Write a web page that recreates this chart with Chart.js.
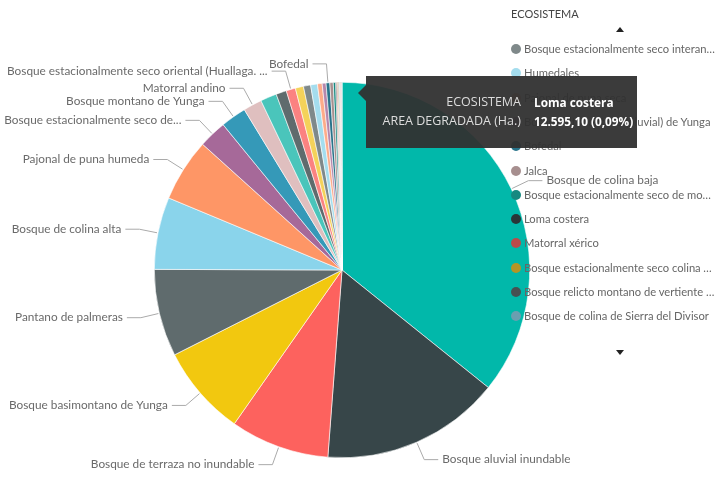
<!DOCTYPE html>
<html lang="es">
<head>
<meta charset="utf-8">
<title>Área degradada por ecosistema</title>
<script src="https://cdn.jsdelivr.net/npm/chart.js@4.4.1/dist/chart.umd.min.js"></script>
<style>
    body { margin: 0; background: #fff; }
    #contenidor { position: relative; width: 725px; height: 483px; overflow: hidden; }
    #grafica { position: absolute; left: 0; top: 0; }
    #llegenda { position: absolute; left: 508px; top: 0; width: 217px; font-family: Lato, sans-serif; }
    #llegenda .titol { position: absolute; left: 3px; top: 7px; font-size: 11px; color: #444; }
    #llegenda .fletxa { position: absolute; left: 108px; width: 0; height: 0; border-left: 4.5px solid transparent; border-right: 4.5px solid transparent; }
    #llegenda .amunt { top: 27px; border-bottom: 5px solid #222; }
    #llegenda .avall { top: 350px; border-top: 5px solid #222; }
    #llegenda .item { position: absolute; left: 3px; height: 16px; line-height: 16px; font-size: 11.2px; color: #666; white-space: nowrap; }
    #llegenda .punt { display: inline-block; width: 10px; height: 10px; border-radius: 50%; vertical-align: -1px; margin-right: 3px; }
    #llegenda .text { display: inline-block; max-width: 191px; overflow: hidden; text-overflow: ellipsis; vertical-align: top; }
    #tooltip { position: absolute; left: 366px; top: 76px; width: 271px; height: 72px; background: rgba(48, 48, 48, 0.95); font-family: "Open Sans", sans-serif; }
    #tooltip:before { content: ""; position: absolute; left: -8px; top: 9px; border-top: 8px solid transparent; border-bottom: 8px solid transparent; border-right: 8px solid rgba(48, 48, 48, 0.95); }
    #tooltip .fila { position: absolute; left: 0; width: 271px; white-space: nowrap; }
    #tooltip .clau { position: absolute; right: 116px; color: #ddd; font-size: 12.5px; }
    #tooltip .valor { position: absolute; left: 168px; top: 1px; color: #fff; font-weight: bold; font-size: 11.8px; }
</style>
</head>
<body>
<div id="contenidor">
    <canvas id="grafica" width="725" height="483"></canvas>
    <div id="llegenda"></div>
    <div id="tooltip"></div>
</div>
<script>
// Dades: àrea degradada (Ha.) per ecosistema
const ecosistemes = [
    'Bosque de colina baja',
    'Bosque aluvial inundable',
    'Bosque de terraza no inundable',
    'Bosque basimontano de Yunga',
    'Pantano de palmeras',
    'Bosque de colina alta',
    'Pajonal de puna humeda',
    'Bosque estacionalmente seco de llanura',
    'Bosque montano de Yunga',
    'Matorral andino',
    'Bosque estacionalmente seco ribereño',
    'Bosque relicto altoandino',
    'Bosque estacionalmente seco oriental (Huallaga y Mayo)',
    'Pantano herbáceo-arbustivo',
    'Bosque estacionalmente seco interandino',
    'Humedales',
    'Pajonal de puna seca',
    'Bosque altimontano (pluvial) de Yunga',
    'Bofedal',
    'Jalca',
    'Bosque estacionalmente seco de montaña',
    'Loma costera',
    'Matorral xérico',
    'Bosque estacionalmente seco colina y montaña',
    'Bosque relicto montano de vertiente occidental',
    'Bosque de colina de Sierra del Divisor',
    'Bosque relicto mesoandino',
    'Bosque de terraza inundable por agua negra',
    'Sabana hidrofítica',
    'Desierto costero'
];

const areaDegradada = [
    4996000, 2155000, 1190000, 1091000, 1050000, 868000, 756000, 336000, 308000, 224000,
    196000, 126000, 112000, 98000, 86000, 82000, 56000, 46500, 45000, 41000,
    28000, 12595.10, 11800, 10900, 9800, 8700, 7600, 6100, 4800, 3200
];

// Etiquetes que es veuen al costat del pastís ('' = sense etiqueta)
const etiquetes = [
    'Bosque de colina baja', 'Bosque aluvial inundable', 'Bosque de terraza no inundable',
    'Bosque basimontano de Yunga', 'Pantano de palmeras', 'Bosque de colina alta',
    'Pajonal de puna humeda', 'Bosque estacionalmente seco de...', 'Bosque montano de Yunga',
    'Matorral andino', '', '', 'Bosque estacionalmente seco oriental (Huallaga. ...', '', '', '', '', '',
    'Bofedal', '', '', '', '', '', '', '', '', '', '', ''
];

// Paleta clàssica de Power BI
const colors = [
    '#01B8AA', '#374649', '#FD625E', '#F2C80F', '#5F6B6D', '#8AD4EB', '#FE9666', '#A66999', '#3599B8', '#DFBFBF',
    '#4AC5BB', '#5F6B6D', '#FB8281', '#F4D25A', '#7F898A', '#A4DDEE', '#FDAB89', '#B687AC', '#28738A', '#A78F8F',
    '#168980', '#293537', '#BB4A4A', '#B59525', '#475052', '#6A9FB0', '#BD7150', '#7B4F71', '#1B4D5C', '#706060'
];

const titolLlegenda = 'ECOSISTEMA';
const primerDeLlegenda = 14; // la llegenda està desplaçada
const itemsLlegenda = 12;
const seleccionat = 'Loma costera';
const nomValor = 'AREA DEGRADADA (Ha.)';

// Plugin per dibuixar les etiquetes amb línia guia
const etiquetesPlugin = {
    id: 'etiquetesPastis',
    afterDatasetsDraw(chart) {
        const ctx = chart.ctx;
        const arcs = chart.getDatasetMeta(0).data;
        ctx.save();
        ctx.font = '11.8px Lato, sans-serif';
        ctx.textBaseline = 'middle';
        arcs.forEach((arc, i) => {
            const text = etiquetes[i];
            if (!text) return;
            const mig = (arc.startAngle + arc.endAngle) / 2;
            const r = arc.outerRadius;
            const cos = Math.cos(mig), sin = Math.sin(mig);
            const x0 = arc.x + (r + 1) * cos, y0 = arc.y + (r + 1) * sin;
            const x1 = arc.x + (r + 19) * cos, y1 = arc.y + (r + 19) * sin;
            const dreta = cos >= 0;
            const x2 = x1 + (dreta ? 14 : -14);
            ctx.strokeStyle = '#aaa';
            ctx.lineWidth = 1;
            ctx.beginPath();
            ctx.moveTo(x0, y0);
            ctx.lineTo(x1, y1);
            ctx.lineTo(x2, y1);
            ctx.stroke();
            ctx.fillStyle = '#6a6a6a';
            ctx.textAlign = dreta ? 'left' : 'right';
            ctx.fillText(text, x2 + (dreta ? 4 : -4), y1);
        });
        ctx.restore();
    }
};

function crearGrafica() {
    const ctx = document.getElementById('grafica').getContext('2d');
    new Chart(ctx, {
        type: 'pie',
        data: {
            labels: ecosistemes,
            datasets: [{
                data: areaDegradada,
                backgroundColor: colors,
                borderColor: '#ffffff',
                borderWidth: 0.6
            }]
        },
        options: {
            responsive: false,
            animation: false,
            layout: { padding: { top: 82, bottom: 25, left: 0, right: 41 } },
            plugins: {
                legend: { display: false },
                tooltip: { enabled: false }
            }
        },
        plugins: [etiquetesPlugin]
    });
}

function crearLlegenda() {
    const div = document.getElementById('llegenda');
    let html = '<div class="titol">' + titolLlegenda + '</div><div class="fletxa amunt"></div>';
    for (let k = 0; k < itemsLlegenda; k++) {
        const i = primerDeLlegenda + k;
        const y = 41 + k * 24.3;
        html += '<div class="item" style="top:' + y + 'px"><span class="punt" style="background:' + colors[i] +
            '"></span><span class="text">' + ecosistemes[i] + '</span></div>';
    }
    html += '<div class="fletxa avall"></div>';
    div.innerHTML = html;
}

function crearTooltip() {
    const total = areaDegradada.reduce((a, b) => a + b, 0);
    const i = ecosistemes.indexOf(seleccionat);
    const v = areaDegradada[i];
    const fmt = n => n.toLocaleString('es-ES', { minimumFractionDigits: 2, maximumFractionDigits: 2, useGrouping: true });
    const valor = fmt(v) + ' (' + fmt(v / total * 100) + '%)';
    document.getElementById('tooltip').innerHTML =
        '<div class="fila" style="top:17px"><span class="clau">' + titolLlegenda + '</span><span class="valor">' + seleccionat + '</span></div>' +
        '<div class="fila" style="top:36px"><span class="clau">' + nomValor + '</span><span class="valor">' + valor + '</span></div>';
}

crearGrafica();
crearLlegenda();
crearTooltip();
</script>
</body>
</html>
